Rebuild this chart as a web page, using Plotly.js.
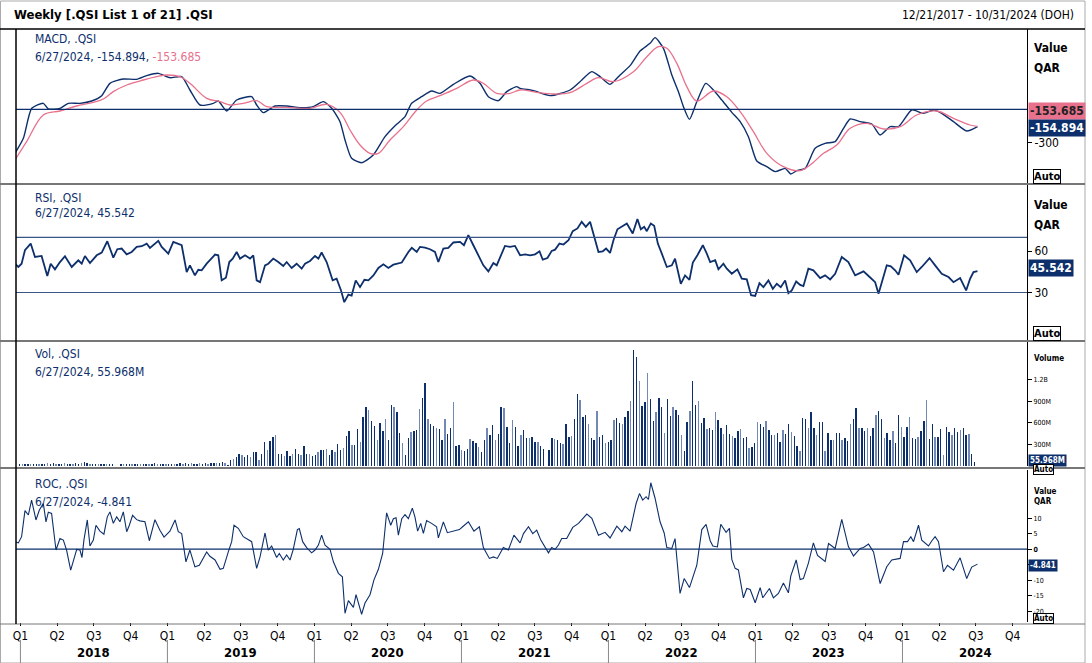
<!DOCTYPE html>
<html>
<head>
<meta charset="utf-8">
<script src="https://cdn.plot.ly/plotly-3.0.1.min.js"></script>
<style>
  body { margin: 0; background: #fff; }
  #chart { width: 1092px; height: 663px; }
</style>
</head>
<body>
<div id="chart"></div>
<script>
// x values are decimal years (2017.97 = 12/21/2017)
var macdX = [2017.963,2018.02,2018.077,2018.156,2018.19,2018.269,2018.326,2018.405,2018.485,2018.553,2018.609,2018.7,2018.79,2018.859,2018.938,2019.017,2019.097,2019.153,2019.221,2019.312,2019.346,2019.403,2019.471,2019.573,2019.607,2019.652,2019.732,2019.811,2019.902,2019.992,2020.06,2020.117,2020.174,2020.208,2020.253,2020.321,2020.4,2020.48,2020.559,2020.616,2020.661,2020.729,2020.797,2020.854,2020.945,2021.058,2021.126,2021.183,2021.251,2021.308,2021.376,
  2021.399,2021.49,2021.603,2021.739,2021.819,2021.886,2021.943,2022.011,2022.079,2022.147,2022.215,2022.283,2022.317,2022.374,2022.431,2022.476,2022.51,2022.551,2022.601,2022.662,2022.714,2022.771,2022.839,2022.896,2022.952,2023.009,2023.077,2023.134,2023.202,2023.24,2023.281,2023.338,2023.406,2023.474,2023.542,2023.599,2023.644,2023.712,2023.791,2023.848,2023.916,2023.973,2024.063,2024.143,2024.211,2024.267,2024.347,2024.437,2024.51];
var macd = [-396,-261,9,54,3,9,54,54,75,123,234,273,270,303,324,285,294,174,39,54,75,-15,84,114,39,-30,30,30,15,24,69,9,-111,-276,-441,-480,-411,-246,-135,-66,54,114,165,144,225,300,234,114,78,159,204,
  189,168,123,174,264,339,294,225,309,393,525,594,645,549,309,159,24,-90,69,234,174,84,-27,-111,-246,-465,-516,-561,-531,-582,-552,-531,-351,-306,-291,-171,-87,-111,-132,-231,-156,-156,-6,-36,-6,-36,-111,-195,-154.894];

var signalX = [2017.963,2018.042,2018.156,2018.269,2018.382,2018.496,2018.564,2018.632,2018.723,2018.836,2018.927,2018.995,2019.085,2019.153,2019.267,2019.358,2019.426,2019.516,2019.607,2019.675,2019.811,2019.97,2020.083,2020.174,2020.242,2020.31,2020.378,2020.435,2020.514,2020.605,2020.696,2020.763,2020.854,2020.968,2021.081,2021.149,2021.24,2021.33,
  2021.399,2021.512,2021.626,2021.739,2021.853,2021.932,2022.034,2022.17,2022.261,2022.34,2022.397,2022.465,2022.533,2022.601,2022.714,2022.805,2022.896,2022.986,2023.077,2023.19,2023.304,2023.372,2023.463,2023.553,2023.644,2023.757,2023.871,2023.984,2024.097,2024.233,2024.347,2024.46,2024.51];
var signal = [-456,-291,-51,-15,30,63,93,159,219,264,294,309,294,234,99,69,39,54,78,24,18,9,45,-27,-186,-321,-396,-396,-276,-156,-6,75,123,189,264,234,144,144,
  174,153,138,150,234,285,249,339,474,564,549,414,204,75,165,114,-21,-201,-396,-516,-552,-501,-396,-321,-171,-126,-177,-156,-51,-15,-81,-141,-153.685];

var rsiX = [2017.963,2017.986,2018.008,2018.031,2018.07,2018.099,2018.144,2018.183,2018.206,2018.235,2018.269,2018.303,2018.349,2018.394,2018.417,2018.439,2018.473,2018.519,2018.553,2018.591,2018.632,2018.659,2018.689,2018.723,2018.757,2018.791,2018.825,2018.859,2018.881,2018.938,2018.961,2019.006,2019.04,2019.074,2019.097,2019.131,2019.153,2019.187,2019.21,2019.233,2019.267,2019.324,2019.346,2019.369,2019.398,2019.421,2019.444,2019.471,2019.494,2019.528,2019.562,2019.584,2019.607,2019.63,2019.664,2019.686,2019.72,2019.754,2019.788,2019.811,2019.845,2019.879,2019.913,2019.936,2019.97,2020.004,2020.027,2020.049,2020.083,2020.124,2020.151,2020.181,2020.203,2020.231,2020.253,2020.281,2020.31,2020.34,2020.367,2020.401,2020.435,2020.469,2020.503,2020.537,2020.594,2020.639,2020.662,2020.696,2020.718,2020.752,2020.786,2020.82,2020.843,2020.877,2020.911,2020.945,2020.99,2021.017,2021.047,2021.081,2021.115,2021.149,2021.183,2021.217,2021.24,2021.262,2021.296,2021.33,2021.364,
  2021.399,2021.433,2021.467,2021.501,2021.531,2021.553,2021.585,2021.614,2021.637,2021.667,2021.694,2021.728,2021.757,2021.789,2021.818,2021.846,2021.875,2021.902,2021.932,2021.961,2021.984,2022.011,2022.034,2022.061,2022.091,2022.125,2022.165,2022.197,2022.22,2022.243,2022.261,2022.288,2022.311,2022.336,2022.363,2022.397,2022.431,2022.453,2022.492,2022.521,2022.551,2022.574,2022.605,2022.642,2022.669,2022.692,2022.726,2022.748,2022.782,2022.805,2022.839,2022.877,2022.907,2022.941,2022.97,2022.998,2023.027,2023.054,2023.088,2023.118,2023.145,2023.172,2023.202,2023.224,2023.247,2023.277,2023.304,2023.326,2023.36,2023.394,2023.44,2023.474,2023.508,2023.542,2023.587,2023.632,2023.678,2023.735,2023.784,2023.814,2023.837,2023.866,2023.893,2023.921,2023.95,2023.973,2024.011,2024.052,2024.097,2024.131,2024.184,2024.222,2024.267,2024.313,2024.347,2024.392,2024.433,2024.46,2024.483,2024.51];
var rsi = [50.9,48.5,50.9,60.7,65.5,55.8,56.5,41.9,50.9,46.8,52.1,56.3,48.5,53.4,50.9,56.5,51.4,57.0,59.0,67.2,55.3,61.4,61.9,57.7,59.4,63.1,63.6,65.5,62.4,67.5,63.1,58.2,66.7,65.5,64.3,44.8,49.7,42.4,46.5,46.1,50.9,57.5,57.0,38.8,40.7,52.1,54.6,59.4,54.6,57.0,54.6,57.0,38.8,37.5,49.7,50.9,54.6,52.1,49.2,52.1,47.8,50.9,47.3,50.9,52.9,56.5,54.6,59.0,52.1,38.8,40.0,31.5,23.0,28.5,27.8,38.8,33.9,39.2,38.8,42.4,47.8,50.4,47.8,50.2,51.7,59.4,62.4,59.4,63.1,62.6,61.4,59.4,52.1,61.9,62.4,66.3,66.7,64.3,71.6,64.3,57.5,49.7,45.3,51.4,49.7,55.8,63.8,63.1,63.8,
  57.0,57.7,57.0,57.7,59.9,53.8,55.0,60.2,61.1,65.5,64.8,67.9,74.5,76.5,81.3,77.7,81.3,71.6,59.4,59.9,61.9,58.7,67.9,75.9,77.7,80.1,72.8,83.3,75.9,77.7,74.5,80.1,78.4,65.5,58.2,48.5,49.7,54.6,36.3,42.4,39.2,51.7,57.0,64.3,58.2,52.1,53.4,46.8,50.9,47.3,43.6,46.8,40.0,39.5,28.0,27.5,36.8,33.9,38.8,32.7,36.3,33.9,38.8,29.5,31.5,38.0,35.5,34.6,47.3,46.1,40.5,42.4,39.5,43.6,55.8,52.1,42.4,45.3,40.5,37.5,29.0,39.5,49.7,49.0,46.1,42.9,57.0,53.4,44.8,48.5,55.0,49.7,43.6,41.2,37.5,40.5,31.5,40.0,44.8,45.542];

var rocX = [2017.963,2017.986,2018.008,2018.031,2018.054,2018.076,2018.106,2018.129,2018.156,2018.174,2018.19,2018.212,2018.242,2018.269,2018.292,2018.314,2018.342,2018.364,2018.383,2018.405,2018.419,2018.432,2018.455,2018.473,2018.496,2018.514,2018.541,2018.568,2018.591,2018.609,2018.632,2018.655,2018.677,2018.7,2018.723,2018.741,2018.763,2018.791,2018.813,2018.847,2018.877,2018.915,2018.949,2018.977,2019.017,2019.052,2019.074,2019.097,2019.126,2019.153,2019.187,2019.217,2019.267,2019.289,2019.324,2019.358,2019.38,2019.414,2019.437,2019.453,2019.482,2019.516,2019.557,2019.573,2019.607,2019.63,2019.664,2019.686,2019.709,2019.743,2019.761,2019.788,2019.811,2019.834,2019.856,2019.884,2019.897,2019.92,2019.947,2019.981,2020.004,2020.027,2020.049,2020.072,2020.106,2020.129,2020.163,2020.19,2020.208,2020.231,2020.265,2020.283,2020.321,2020.344,2020.378,2020.405,2020.435,2020.464,2020.491,2020.519,2020.537,2020.555,2020.571,2020.594,2020.616,2020.639,2020.666,2020.684,2020.702,2020.723,2020.741,2020.763,2020.797,2020.831,2020.843,2020.877,2020.904,2020.945,2020.986,2021.008,2021.047,2021.085,2021.122,2021.149,2021.19,2021.217,2021.244,2021.285,2021.319,2021.357,
  2021.399,2021.422,2021.456,2021.485,2021.512,2021.54,2021.562,2021.592,2021.614,2021.637,2021.66,2021.682,2021.716,2021.757,2021.796,2021.853,2021.887,2021.932,2021.977,2022.011,2022.057,2022.091,2022.113,2022.147,2022.188,2022.211,2022.233,2022.256,2022.272,2022.288,2022.317,2022.351,2022.379,2022.397,2022.431,2022.453,2022.487,2022.515,2022.551,2022.601,2022.635,2022.664,2022.692,2022.71,2022.741,2022.764,2022.8,2022.823,2022.839,2022.862,2022.884,2022.918,2022.941,2022.964,2022.998,2023.032,2023.05,2023.095,2023.122,2023.156,2023.19,2023.224,2023.24,2023.277,2023.304,2023.326,2023.36,2023.394,2023.422,2023.474,2023.497,2023.542,2023.587,2023.632,2023.667,2023.712,2023.735,2023.769,2023.803,2023.848,2023.893,2023.927,2023.984,2024.007,2024.034,2024.057,2024.075,2024.109,2024.131,2024.177,2024.2,2024.222,2024.245,2024.279,2024.306,2024.347,2024.392,2024.437,2024.471,2024.51];
var roc = [2.4,2.0,4.0,12.4,11.0,15.8,9.4,12.6,14.7,8.8,11.9,11.5,-0.3,3.4,2.9,-0.3,-6.8,-3.5,-0.1,-0.3,-2.7,2.9,9.4,1.0,2.9,7.7,5.8,4.8,10.4,12.0,8.3,10.4,8.8,12.0,5.6,7.7,10.9,9.5,9.1,8.8,2.7,9.5,6.1,3.9,5.8,9.4,5.6,5.0,-4.1,-0.3,-5.7,-5.2,-0.9,-2.3,-3.5,-6.5,-6.2,-0.9,2.4,7.7,6.7,4.0,2.7,2.4,-6.2,-2.5,5.2,-0.3,1.0,-2.7,-1.4,-3.5,-1.9,-3.5,-0.1,6.3,6.6,2.4,0.5,-1.2,-0.3,1.3,4.5,1.3,-0.1,-4.1,-7.8,-8.9,-20.7,-16.6,-18.8,-14.7,-21.0,-17.4,-14.7,-9.9,-6.5,-1.4,11.7,7.7,9.8,10.1,4.5,9.8,11.1,9.8,13.2,10.3,5.8,8.3,5.1,9.2,8.3,7.2,3.6,8.8,5.3,5.8,6.3,7.2,8.8,5.8,7.2,0.5,-3.0,-2.5,-3.0,0.5,-0.3,4.5,
  2.0,5.0,7.2,5.0,6.1,2.9,1.0,-1.2,0.5,-0.1,1.3,3.4,3.4,7.0,8.3,11.3,9.9,4.5,5.4,3.6,7.4,5.6,7.4,5.8,14.7,17.9,15.8,16.9,16.0,21.4,16.4,8.8,5.2,0.5,0.2,3.4,-14.3,-9.5,-12.4,-5.2,6.3,8.0,2.7,1.0,0.7,8.0,5.4,6.7,-3.3,-6.2,-6.7,-15.7,-12.7,-13.0,-17.3,-12.4,-15.7,-12.7,-15.7,-14.3,-10.9,-14.1,-8.7,-3.5,-9.8,-9.5,-4.5,2.0,-2.0,-4.0,1.8,0.2,9.6,0.8,-2.2,0.2,0.5,1.6,-0.9,-11.1,-5.7,-3.5,-3.0,2.4,2.4,4.0,2.4,7.7,2.9,1.0,2.7,4.0,2.4,-7.3,-5.2,-6.8,-2.8,-9.5,-5.8,-4.841];

// weekly volume (millions), last week 6/27/2024
var volEnd = 2024.49;
var volume = [30,32,28,34,30,33,29,31,27,30, 35,30,38,33,34,31,36,32,30,34, 37,33,42,60,35,28,24,26,22,25,
  23,26,24,22,6,5,25,27,24,26, 28,25,27,30,26,32,28,25,36,30, 28,25,30,27,32,26,29,35,28,40,
  32,36,34,30,38,33,35,34,37,40, 36,42,50,38,20,
  77,100,120,166,148,120,148,120,190,195,77,170,330,218,345,400,424,170,170,133,204,133,170,237,170,157,283,170,170,133,157,190,218,228,242,157,218,195,298,218,251,415,485,288,288,508,330,673,823,780,626,556,359,603,485,650,354,851,823,743,453,321,157,392,476,485,495,790,945,1150,650,588,556,532,508,354,650,448,532,893,284,288,228,204,241,378,345,321,265,190,359,532,429,570,359,448,814,800,542,321,635,542,274,424,495,382,392,
  401,331,331,284,237,0,223,392,378,354,317,298,589,401,410,650,992,922,682,711,579,382,354,767,401,429,312,331,354,636,664,603,589,673,767,902,1602,1508,1175,837,884,1283,931,626,743,945,814,462,927,696,814,776,711,424,213,612,757,1175,851,898,593,664,518,523,495,753,636,523,448,565,448,415,382,485,509,392,406,251,260,321,612,579,542,626,495,424,424,462,331,495,438,579,471,415,284,213,664,650,523,753,523,424,617,612,213,453,359,359,462,462,354,382,345,579,645,800,523,523,485,523,415,523,711,757,645,392,453,359,485,321,711,542,401,542,682,392,378,406,485,626,922,368,579,401,401,509,148,542,476,429,523,476,495,532,429,448,171,55.968];

var quarterVals = [], quarterText = [];
for (var yr = 2018; yr <= 2024; yr++) {
  for (var q = 0; q < 4; q++) { quarterVals.push(yr + q * 0.25); quarterText.push('Q' + (q + 1)); }
}
var yearLabels = ['2018', '2019', '2020', '2021', '2022', '2023', '2024'];

var navy = '#0d2f6b', pink = '#e8718d';
var nVol = volume.length;
var volX = volume.map(function (v, i) { return volEnd - (nVol - 1 - i) * 7 / 365.25; });
var volColors = volume.map(function (v, i) { return i % 3 === 1 ? '#7189b4' : navy; });

var data = [
  {x: macdX, y: macd, type: 'scatter', mode: 'lines', line: {color: navy, width: 1.4, shape: 'spline', smoothing: 0.6}, yaxis: 'y'},
  {x: signalX, y: signal, type: 'scatter', mode: 'lines', line: {color: pink, width: 1.3, shape: 'spline'}, yaxis: 'y'},
  {x: rsiX, y: rsi, type: 'scatter', mode: 'lines', line: {color: navy, width: 1.8}, yaxis: 'y2'},
  {x: volX, y: volume, type: 'bar', marker: {color: volColors}, width: 0.0095, yaxis: 'y3'},
  {x: rocX, y: roc, type: 'scatter', mode: 'lines', line: {color: navy, width: 1.1}, yaxis: 'y4'}
];

// pixel helpers for annotations/shapes
function px(x) { return (x - 16) / 1011; }
function py(y) { return 1 - (y - 29) / 593; }

var font = 'DejaVu Sans Condensed, DejaVu Sans, sans-serif';
var axBase = {side: 'right', anchor: 'x', showgrid: false, zeroline: false, ticks: 'outside', ticklen: 4,
  tickcolor: '#000', showline: true, linecolor: '#000', fixedrange: true};

function ax(extra) { return Object.assign({}, axBase, extra); }

var ann = [];
function txt(x, y, t, opts) {
  ann.push(Object.assign({xref: 'paper', yref: 'paper', x: px(x), y: py(y), text: t, showarrow: false,
    xanchor: 'left', yanchor: 'middle', font: {family: font, size: 12, color: navy}}, opts || {}));
}
txt(12, 15, '<b>Weekly [.QSI List 1 of 21] .QSI</b>', {font: {family: font, size: 13, color: '#000'}});
txt(1076, 15, '12/21/2017 - 10/31/2024 (DOH)', {xanchor: 'right', font: {family: font, size: 12, color: '#000'}});
txt(33, 39, 'MACD, .QSI');
txt(33, 57, '6/27/2024, -154.894, <span style="color:' + pink + '">-153.685</span>');
txt(33, 198, 'RSI, .QSI');
txt(33, 213, '6/27/2024, 45.542');
txt(33, 354, 'Vol, .QSI');
txt(33, 372, '6/27/2024, 55.968M');
txt(33, 484, 'ROC, .QSI');
txt(33, 502, '6/27/2024, -4.841');
var bold = {family: font, size: 12, color: '#000'};
txt(1032, 48, '<b>Value</b>', {font: bold});
txt(1032, 68, '<b>QAR</b>', {font: bold});
txt(1032, 205, '<b>Value</b>', {font: bold});
txt(1032, 225, '<b>QAR</b>', {font: bold});
var small = {family: font, size: 8, color: '#000'};
txt(1032, 358, '<b>Volume</b>', {font: small});
txt(1032, 491, '<b>Value</b>', {font: small});
txt(1032, 501, '<b>QAR</b>', {font: small});
function box(y, t, bg, fg, size) {
  ann.push({xref: 'paper', yref: 'paper', x: px(1028), y: py(y), text: '<b>' + t + '</b>', showarrow: false,
    xanchor: 'left', yanchor: 'middle', bgcolor: bg, borderpad: 1,
    font: {family: font, size: size, color: fg}});
}
box(111, '-153.685', pink, '#222', 12);
box(128, '-154.894', navy, '#fff', 12);
box(268, '45.542', navy, '#fff', 12);
box(460, '55.968M', navy, '#fff', 8);
box(565, '-4.841', navy, '#fff', 8);
function auto(y, size) {
  ann.push({xref: 'paper', yref: 'paper', x: px(1033), y: py(y), text: '<b>Auto</b>', showarrow: false,
    xanchor: 'left', yanchor: 'middle', bordercolor: '#000', borderwidth: 1, borderpad: 0, bgcolor: '#fff',
    font: {family: font, size: size, color: '#000'}});
}
auto(176, 11); auto(333, 11); auto(469, 8); auto(618, 8);
yearLabels.forEach(function (y) {
  ann.push({xref: 'x', yref: 'paper', x: +y + 0.5, y: py(652), text: '<b>' + y + '</b>', showarrow: false,
    yanchor: 'middle', font: {family: font, size: 13, color: '#000'}});
});

var shapes = [
  {type: 'line', xref: 'paper', yref: 'y', x0: 0, x1: 1, y0: 0, y1: 0, line: {color: navy, width: 1.2}},
  {type: 'line', xref: 'paper', yref: 'y2', x0: 0, x1: 1, y0: 70, y1: 70, line: {color: '#3a5688', width: 1.2}},
  {type: 'line', xref: 'paper', yref: 'y2', x0: 0, x1: 1, y0: 30, y1: 30, line: {color: '#3a5688', width: 1.2}},
  {type: 'line', xref: 'paper', yref: 'y4', x0: 0, x1: 1, y0: 0, y1: 0, line: {color: navy, width: 1.2}},
  {type: 'rect', xref: 'paper', yref: 'paper', x0: px(0.5), x1: px(1085), y0: py(663), y1: py(1), line: {color: '#aaa', width: 1}},
  {type: 'line', xref: 'paper', yref: 'paper', x0: px(0), x1: px(1085), y0: py(29), y1: py(29), line: {color: '#000', width: 1.5}}
];
[184, 341, 468].forEach(function (y) {
  shapes.push({type: 'line', xref: 'paper', yref: 'paper', x0: px(0), x1: px(1085), y0: py(y), y1: py(y), line: {color: '#777', width: 2}});
});
shapes.push({type: 'line', xref: 'paper', yref: 'paper', x0: px(0), x1: px(1085), y0: py(624), y1: py(624), line: {color: '#777', width: 1}});
shapes.push({type: 'line', xref: 'paper', yref: 'paper', x0: 0, x1: 0, y0: py(624), y1: 1, line: {color: '#000', width: 1.5}});
for (var yy = 2018; yy <= 2024; yy++) {
  shapes.push({type: 'line', xref: 'x', yref: 'paper', x0: yy, x1: yy, y0: py(640), y1: py(663), line: {color: '#888', width: 1}});
}

var layout = {
  width: 1092, height: 663,
  margin: {l: 16, r: 65, t: 29, b: 41},
  paper_bgcolor: '#fff', plot_bgcolor: '#fff',
  showlegend: false, bargap: 0,
  font: {family: font, size: 12, color: '#000'},
  xaxis: {range: [2017.97, 2024.847], anchor: 'y4', tickvals: quarterVals, ticktext: quarterText,
    ticks: 'outside', ticklen: 3, tickcolor: '#000', showgrid: false, zeroline: false, showline: false,
    tickfont: {family: font, size: 12, color: '#000'}, fixedrange: true},
  yaxis: ax({domain: [0.7403, 1], range: [-663, 723], tickvals: [-300], ticktext: ['-300'],
    tickfont: {family: font, size: 12}}),
  yaxis2: ax({domain: [0.4755, 0.7369], range: [-4.5, 108], tickvals: [30, 60], tickfont: {family: font, size: 12}}),
  yaxis3: ax({domain: [0.2631, 0.4722], range: [0, 1720], tickvals: [300, 600, 900, 1200],
    ticktext: ['300M', '600M', '900M', '1.2B'], tickfont: {family: font, size: 7}}),
  yaxis4: ax({domain: [0, 0.2563], range: [-23.5, 25.5], tickvals: [-20, -15, -10, -5, 0, 5, 10],
    ticktext: ['-20', '-15', '-10', '', '<b>0</b>', '5', '10'], tickfont: {family: font, size: 7}}),
  annotations: ann,
  shapes: shapes
};

Plotly.newPlot('chart', data, layout, {displayModeBar: false, staticPlot: true});
</script>
</body>
</html>
